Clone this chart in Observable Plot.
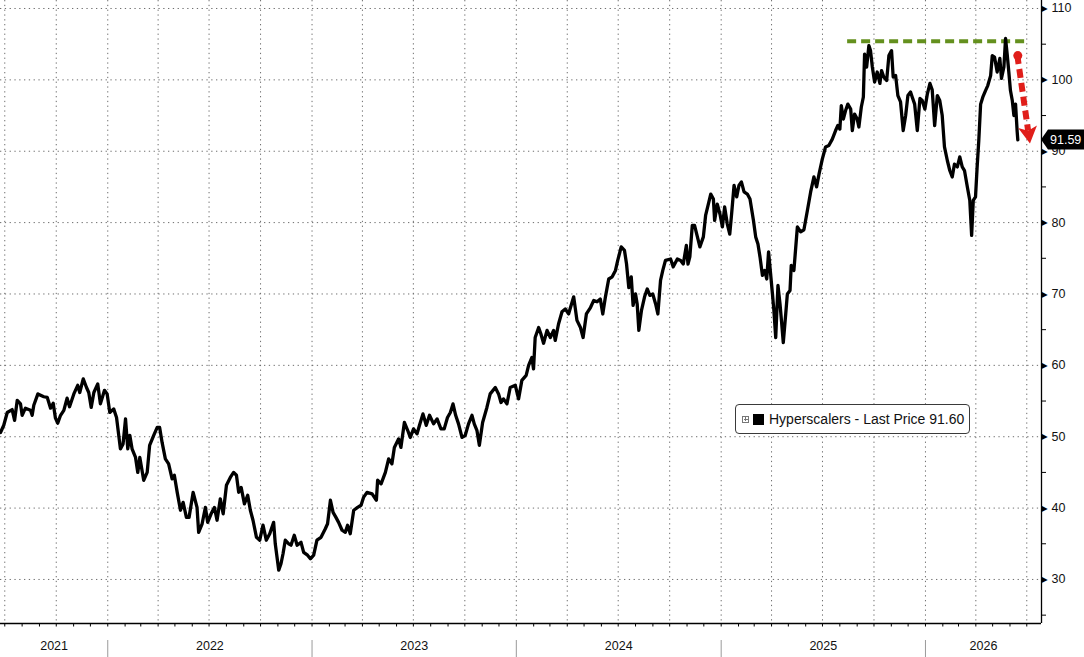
<!DOCTYPE html>
<html>
<head>
<meta charset="utf-8">
<script src="https://cdn.jsdelivr.net/npm/d3@7"></script>
<script src="https://cdn.jsdelivr.net/npm/@observablehq/plot@0.6"></script>
<style>
  html, body { margin: 0; padding: 0; background: #fff; }
  #wrap { position: relative; width: 1084px; height: 657px; overflow: hidden; font-family: "Liberation Sans", Arial, sans-serif; }
  #legend { position: absolute; left: 735px; top: 404px; width: 235px; height: 30px; box-sizing: border-box;
            border: 1px solid #3a3a3a; border-radius: 4px; background: #fff; display: flex; align-items: center;
            font-size: 14px; color: #111; white-space: nowrap; }
  #legend .icon { width: 5px; height: 5px; border: 1px solid #777; margin-left: 6px; position: relative; }
  #legend .icon::before { content: ""; position: absolute; left: 2px; top: 0.5px; width: 1px; height: 4px; background: #777; }
  #legend .icon::after { content: ""; position: absolute; left: 0.5px; top: 2px; width: 4px; height: 1px; background: #777; }
  #legend .sw { width: 11px; height: 11px; background: #000; margin-left: 4px; margin-right: 5px; }
</style>
</head>
<body>
<div id="wrap"></div>
<script>
// ---- data (decimal year) ----
const dates = [
  2021.475, 2021.491, 2021.508, 2021.532, 2021.544, 2021.557, 2021.573, 2021.581, 2021.597, 2021.622,
  2021.630, 2021.638, 2021.658, 2021.687, 2021.704, 2021.720, 2021.733, 2021.744, 2021.755, 2021.769,
  2021.785, 2021.801, 2021.813, 2021.834, 2021.853, 2021.863, 2021.880, 2021.896, 2021.907, 2021.919,
  2021.932, 2021.951, 2021.964, 2021.984, 2021.997, 2022.010, 2022.029, 2022.043, 2022.062, 2022.075,
  2022.087, 2022.098, 2022.108, 2022.119, 2022.136, 2022.147, 2022.157, 2022.176, 2022.193, 2022.205,
  2022.225, 2022.242, 2022.254, 2022.266, 2022.282, 2022.298, 2022.315, 2022.326, 2022.340, 2022.356,
  2022.369, 2022.385, 2022.398, 2022.418, 2022.437, 2022.445, 2022.462, 2022.478, 2022.489, 2022.506,
  2022.522, 2022.535, 2022.551, 2022.565, 2022.581, 2022.600, 2022.616, 2022.630, 2022.641, 2022.653,
  2022.669, 2022.685, 2022.698, 2022.711, 2022.728, 2022.744, 2022.760, 2022.776, 2022.793, 2022.812,
  2022.820, 2022.837, 2022.848, 2022.858, 2022.869, 2022.886, 2022.897, 2022.913, 2022.927, 2022.946,
  2022.959, 2022.978, 2022.992, 2023.008, 2023.024, 2023.044, 2023.065, 2023.076, 2023.090, 2023.103,
  2023.117, 2023.130, 2023.147, 2023.163, 2023.174, 2023.187, 2023.204, 2023.223, 2023.240, 2023.252,
  2023.269, 2023.294, 2023.315, 2023.321, 2023.338, 2023.359, 2023.375, 2023.391, 2023.403, 2023.424,
  2023.435, 2023.452, 2023.468, 2023.481, 2023.497, 2023.514, 2023.526, 2023.543, 2023.559, 2023.575,
  2023.595, 2023.612, 2023.631, 2023.647, 2023.663, 2023.677, 2023.690, 2023.703, 2023.717, 2023.734,
  2023.750, 2023.766, 2023.783, 2023.794, 2023.807, 2023.819, 2023.835, 2023.856, 2023.872, 2023.897,
  2023.913, 2023.925, 2023.937, 2023.954, 2023.970, 2023.995, 2024.011, 2024.027, 2024.048, 2024.060,
  2024.076, 2024.084, 2024.092, 2024.109, 2024.120, 2024.133, 2024.150, 2024.166, 2024.182, 2024.190,
  2024.206, 2024.223, 2024.239, 2024.255, 2024.280, 2024.296, 2024.313, 2024.326, 2024.342, 2024.362,
  2024.378, 2024.394, 2024.410, 2024.422, 2024.435, 2024.451, 2024.468, 2024.484, 2024.495, 2024.512,
  2024.528, 2024.538, 2024.549, 2024.561, 2024.570, 2024.582, 2024.590, 2024.598, 2024.611, 2024.626,
  2024.639, 2024.652, 2024.666, 2024.680, 2024.691, 2024.704, 2024.715, 2024.728, 2024.753, 2024.766,
  2024.786, 2024.802, 2024.815, 2024.830, 2024.838, 2024.847, 2024.859, 2024.870, 2024.884, 2024.896,
  2024.913, 2024.924, 2024.940, 2024.949, 2024.962, 2024.968, 2024.981, 2024.994, 2025.006, 2025.017,
  2025.030, 2025.042, 2025.051, 2025.063, 2025.076, 2025.087, 2025.099, 2025.112, 2025.128, 2025.141,
  2025.158, 2025.169, 2025.180, 2025.190, 2025.202, 2025.213, 2025.223, 2025.232, 2025.242, 2025.251,
  2025.258, 2025.267, 2025.278, 2025.288, 2025.295, 2025.304, 2025.316, 2025.324, 2025.337, 2025.343,
  2025.356, 2025.373, 2025.389, 2025.405, 2025.422, 2025.438, 2025.454, 2025.467, 2025.479, 2025.495,
  2025.511, 2025.527, 2025.544, 2025.560, 2025.571, 2025.581, 2025.588, 2025.598, 2025.609, 2025.620,
  2025.634, 2025.642, 2025.653, 2025.666, 2025.674, 2025.686, 2025.696, 2025.702, 2025.712, 2025.723,
  2025.731, 2025.740, 2025.751, 2025.764, 2025.777, 2025.785, 2025.796, 2025.810, 2025.821, 2025.834,
  2025.842, 2025.854, 2025.865, 2025.878, 2025.891, 2025.903, 2025.914, 2025.927, 2025.935, 2025.947,
  2025.960, 2025.973, 2025.984, 2025.997, 2026.009, 2026.022, 2026.033, 2026.045, 2026.058, 2026.070,
  2026.082, 2026.093, 2026.107, 2026.119, 2026.131, 2026.142, 2026.156, 2026.168, 2026.180, 2026.191,
  2026.205, 2026.217, 2026.226, 2026.234, 2026.245, 2026.253, 2026.261, 2026.270, 2026.281, 2026.294,
  2026.305, 2026.319, 2026.327, 2026.338, 2026.351, 2026.364, 2026.372, 2026.384, 2026.392, 2026.400,
  2026.408, 2026.416, 2026.425, 2026.433, 2026.441, 2026.449, 2026.452
];
const prices = [
  50.6, 51.6, 53.4, 53.8, 52.3, 55.1, 54.6, 53.0, 54.0, 53.7,
  53.0, 54.4, 56.0, 55.6, 55.5, 54.0, 54.7, 52.6, 51.9, 53.0,
  53.7, 55.4, 54.2, 56.0, 57.2, 56.2, 58.1, 56.9, 56.2, 54.1,
  56.2, 57.4, 54.6, 56.5, 56.0, 53.4, 53.9, 52.7, 48.3, 49.0,
  52.5, 48.3, 50.2, 48.3, 47.1, 45.0, 47.1, 43.9, 45.0, 48.8,
  50.2, 51.3, 51.3, 49.2, 46.9, 46.2, 44.1, 44.6, 42.2, 39.7,
  40.8, 38.7, 38.7, 42.2, 40.1, 36.6, 37.8, 40.1, 38.0, 39.2,
  40.1, 38.3, 41.3, 39.2, 43.2, 44.3, 45.0, 44.6, 42.2, 42.9,
  40.6, 41.8, 39.7, 38.3, 35.9, 35.5, 37.6, 35.5, 36.4, 38.0,
  35.0, 31.3, 32.2, 33.6, 35.5, 35.0, 34.8, 36.2, 34.8, 35.2,
  33.8, 33.4, 32.9, 33.4, 35.5, 35.9, 37.1, 37.8, 41.1, 39.4,
  38.7, 38.0, 36.9, 36.6, 37.6, 36.4, 39.7, 40.1, 40.4, 41.5,
  42.2, 42.0, 41.1, 43.9, 43.4, 45.0, 46.9, 46.2, 48.5, 49.7,
  48.5, 52.0, 50.9, 49.9, 51.1, 50.4, 51.6, 53.2, 51.6, 53.0,
  51.8, 52.5, 51.1, 51.1, 52.7, 53.4, 54.6, 53.0, 51.8, 49.9,
  50.2, 51.8, 53.0, 51.8, 50.9, 48.8, 52.0, 54.1, 56.0, 56.9,
  56.0, 54.8, 55.3, 54.6, 56.9, 57.2, 55.3, 57.9, 58.6, 60.0,
  61.1, 59.5, 63.9, 65.3, 64.4, 63.1, 64.9, 63.9, 64.9, 63.5,
  65.8, 67.5, 67.9, 67.2, 69.6, 66.3, 65.3, 63.9, 67.2, 68.1,
  69.1, 68.9, 69.3, 67.2, 69.6, 72.1, 72.4, 73.3, 74.7, 76.6,
  76.1, 74.2, 70.9, 72.4, 68.4, 70.0, 68.6, 64.9, 67.7, 69.6,
  70.7, 69.8, 70.0, 68.6, 67.2, 71.9, 73.3, 74.7, 74.9, 73.8,
  74.9, 74.7, 74.2, 76.8, 74.2, 75.2, 79.6, 79.6, 78.0, 76.6,
  78.0, 81.0, 82.9, 84.0, 83.3, 80.3, 82.6, 81.2, 79.4, 82.2,
  79.8, 78.4, 81.2, 85.2, 83.6, 85.2, 85.7, 84.3, 84.0, 83.3,
  80.3, 78.0, 77.0, 75.2, 72.6, 73.3, 72.1, 75.9, 72.8, 70.0,
  67.7, 63.9, 71.2, 68.6, 66.3, 63.2, 67.2, 70.0, 70.5, 74.0,
  73.3, 79.4, 78.7, 79.0, 81.7, 84.3, 86.4, 85.0, 86.8, 88.9,
  90.6, 90.8, 91.7, 92.9, 93.6, 93.1, 96.4, 94.5, 95.7, 96.6,
  95.9, 92.9, 95.2, 94.5, 93.4, 96.2, 97.6, 103.6, 101.8, 104.8,
  104.1, 101.8, 99.7, 101.1, 99.5, 101.3, 100.4, 99.9, 103.4, 104.1,
  100.4, 100.6, 97.8, 96.9, 92.9, 95.0, 97.8, 98.3, 97.6, 96.6,
  92.9, 97.4, 97.1, 95.9, 98.0, 99.5, 98.6, 93.6, 97.8, 97.1,
  95.0, 90.6, 88.7, 87.3, 86.4, 88.2, 87.8, 89.2, 87.8, 87.3,
  85.0, 83.1, 78.2, 83.1, 83.6, 87.8, 91.5, 96.6, 97.6, 98.5,
  99.2, 100.6, 103.4, 103.2, 101.1, 103.0, 100.2, 101.8, 105.8, 103.6,
  101.1, 98.5, 97.1, 95.0, 96.6, 92.7, 91.59
];
const seriesName = "Hyperscalers - Last Price";
const legendValue = "91.60";
const lastPrice = 91.59;
const yTicks = [30, 40, 50, 60, 70, 80, 90, 100, 110];
const yMinorTicks = [25, 35, 45, 55, 65, 75, 85, 95, 105];
const yearLabels = ["2021", "2022", "2023", "2024", "2025", "2026"];
const xDomainYears = [2021.475, 2026.568];
const yDomain = [23.83, 111.12];
// annotations
const resistanceLevel = 105.4;
const resistanceSpan = [2025.619, 2026.509];
const arrowFrom = [2026.452, 103.4];
const arrowTo = [2026.514, 91.0];

// ---- helpers ----
function fromDecimalYear(t) {
  const y = Math.floor(t);
  const a = Date.UTC(y, 0, 1), b = Date.UTC(y + 1, 0, 1);
  return new Date(a + (t - y) * (b - a));
}
if (dates.length !== prices.length) console.error("length mismatch", dates.length, prices.length);
const series = dates.map((t, i) => ({date: fromDecimalYear(t), value: prices[i]}));
const xDomain = xDomainYears.map(fromDecimalYear);
const monthTicks = d3.utcMonth.range(xDomain[0], xDomain[1]);
const quarterTicks = d3.utcMonth.every(3).range(xDomain[0], xDomain[1]);
const yearStarts = yearLabels.slice(1).map(y => new Date(Date.UTC(+y, 0, 1)));
const yearMids = yearLabels.map(y => {
  const s = Math.max(Date.UTC(+y, 0, 1), +xDomain[0]);
  const e = Math.min(Date.UTC(+y + 1, 0, 1), +xDomain[1]);
  return {label: y, mid: new Date((s + e) / 2)};
});
const resistance = [{y: resistanceLevel, x1: fromDecimalYear(resistanceSpan[0]), x2: fromDecimalYear(resistanceSpan[1])}];
const arrow = [{x1: fromDecimalYear(arrowFrom[0]), y1: arrowFrom[1], x2: fromDecimalYear(arrowTo[0]), y2: arrowTo[1]}];

const RED = "#e01e1a", GREEN = "#64901e", GRID = "#6e6e6e";
const font = "'Liberation Sans', Arial, sans-serif";

const chart = Plot.plot({
  width: 1084,
  height: 657,
  marginLeft: 0,
  marginRight: 43,
  marginTop: 0,
  marginBottom: 34,
  style: {background: "#fff", color: "#000", fontFamily: font, fontSize: "12px", overflow: "visible"},
  x: {type: "utc", domain: xDomain, ticks: monthTicks, tickSize: 3.5, tickFormat: () => "", label: null},
  y: {domain: yDomain, axis: "right", ticks: yMinorTicks, tickSize: 4, tickFormat: () => "", label: null},
  marks: [
    Plot.ruleY(yTicks, {stroke: GRID, strokeWidth: 1, strokeDasharray: "1.3,3.5"}),
    Plot.ruleX(quarterTicks, {stroke: GRID, strokeWidth: 1, strokeDasharray: "1.3,3.5"}),
    Plot.ruleY([yDomain[0]], {stroke: "#000", strokeWidth: 1.3}),
    Plot.ruleX([xDomain[1]], {stroke: "#000", strokeWidth: 1.3}),
    Plot.ruleX(yearStarts, {stroke: "#9a9a9a", strokeWidth: 1, insetTop: 606, dy: 34}),
    Plot.text(yearMids, {x: "mid", text: "label", frameAnchor: "bottom", dy: 26, fontSize: 12.5, fill: "#111"}),
    Plot.text(yTicks, {y: d => d, text: () => "\u25B6", frameAnchor: "right", textAnchor: "start", dx: 0, fontSize: 8, fill: "#000", fontFamily: "DejaVu Sans"}),
    Plot.text(yTicks, {y: d => d, text: d => String(d), frameAnchor: "right", textAnchor: "start", dx: 10, fontSize: 12.5, fill: "#111"}),
    Plot.ruleY(resistance, {y: "y", x1: "x1", x2: "x2", stroke: GREEN, strokeWidth: 4, strokeDasharray: "9,5"}),
    Plot.line(series, {x: "date", y: "value", stroke: "#000", strokeWidth: 3.3, strokeLinejoin: "round", strokeLinecap: "round"}),
    Plot.dot(arrow, {x: "x1", y: "y1", r: 4.5, fill: RED, stroke: "none"})
  ]
});

document.getElementById("wrap").appendChild(chart);

// dashed arrow shaft + head and last-value tag, positioned with the chart's own scales
const sx = chart.scale("x"), sy = chart.scale("y");
const svg = d3.select(chart);
{
  const a = arrow[0];
  const fx = sx.apply(a.x1), fy = sy.apply(a.y1);
  const tx = sx.apply(a.x2), ty = sy.apply(a.y2);
  const dx = tx - fx, dy = ty - fy, L = Math.hypot(dx, dy);
  const ux = dx / L, uy = dy / L, nx = -uy, ny = ux;
  const len = 17, half = 9.5, notch = 4;
  const bx = tx - ux * len, by = ty - uy * len;
  const mx = bx + ux * notch, my = by + uy * notch;
  svg.append("line")
    .attr("x1", fx).attr("y1", fy).attr("x2", mx).attr("y2", my)
    .attr("stroke", RED).attr("stroke-width", 6).attr("stroke-dasharray", "9,5");
  svg.append("path")
    .attr("d", `M${tx},${ty}L${bx + nx * half},${by + ny * half}L${mx},${my}L${bx - nx * half},${by - ny * half}Z`)
    .attr("fill", RED);
}
{
  const x0 = sx.apply(xDomain[1]);
  const y0 = sy.apply(lastPrice);
  const g = svg.append("g").attr("text-anchor", "start");
  g.append("path")
    .attr("d", `M${x0},${y0}L${x0 + 7},${y0 - 10}L1084,${y0 - 10}L1084,${y0 + 10}L${x0 + 7},${y0 + 10}Z`)
    .attr("fill", "#000");
  g.append("text")
    .attr("x", x0 + 9).attr("y", y0).attr("dy", "0.36em")
    .attr("text-anchor", "start")
    .attr("fill", "#fff").attr("font-size", 12.5).attr("font-family", font)
    .text(lastPrice.toFixed(2));
}

// legend box
const legend = document.createElement("div");
legend.id = "legend";
legend.innerHTML = `<span class="icon"></span><span class="sw"></span><span class="txt"></span>`;
legend.querySelector(".txt").textContent = `${seriesName} ${legendValue}`;
document.getElementById("wrap").appendChild(legend);
</script>
</body>
</html>
